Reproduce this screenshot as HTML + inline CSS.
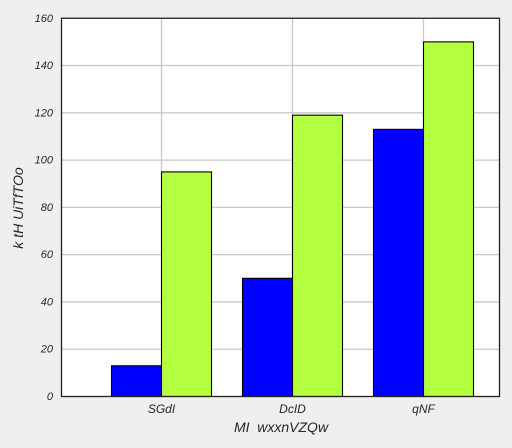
<!DOCTYPE html>
<html>
<head>
<meta charset="utf-8">
<style>
html,body{margin:0;padding:0;background:#efefef;}
body{width:512px;height:448px;overflow:hidden;}
svg{display:block;}
text{font-family:"Liberation Sans",sans-serif;font-style:italic;fill:#262626;}
</style>
</head>
<body>
<svg id="chart" width="512" height="448" viewBox="0 0 512 448" xmlns="http://www.w3.org/2000/svg">
<rect x="0" y="0" width="512" height="448" fill="#efefef"/>
<rect x="61.5" y="18.25" width="438" height="378.25" fill="#ffffff"/>
<g id="grid"></g>
<g id="bars"></g>
<rect x="61.5" y="18.25" width="438" height="378.25" fill="none" stroke="#222222" stroke-width="1.3"/>
<g id="labels"></g>
<text x="281" y="432" font-size="14" text-anchor="middle" xml:space="preserve">MI  wxxnVZQw</text>
<text transform="translate(23,208) rotate(-90)" font-size="14" text-anchor="middle">k tH UiTfTOo</text>
</svg>
<script>
const categories = ['SGdI', 'DcID', 'qNF'];
const seriesBlue = [13, 50, 113];
const seriesGreen = [95, 119, 150];
const yTicks = [0, 20, 40, 60, 80, 100, 120, 140, 160];

const NS = 'http://www.w3.org/2000/svg';
const plotLeft = 61.5, plotRight = 499.5, plotTop = 18.25, plotBottom = 396.5;
const yMax = 160;
const firstCenter = 161.5, step = 131, barWidth = 50;

function yScale(v) {
  return plotBottom - (v / yMax) * (plotBottom - plotTop);
}
function xScale(i) {
  return firstCenter + i * step;
}
function make(tag, attrs, parent) {
  const el = document.createElementNS(NS, tag);
  for (const k in attrs) el.setAttribute(k, attrs[k]);
  parent.appendChild(el);
  return el;
}

const grid = document.getElementById('grid');
const bars = document.getElementById('bars');
const labels = document.getElementById('labels');

yTicks.forEach(function (t) {
  const y = yScale(t);
  if (t > 0 && t < yMax) {
    const line = make('line', {x1: plotLeft, x2: plotRight, y1: y, y2: y, stroke: '#c8c8c8', 'stroke-width': 1.3}, grid);
    
    
  }
  const label = make('text', {x: 53, y: y + 3.5, 'font-size': 11, 'text-anchor': 'end'}, labels);
  label.textContent = String(t);
  
  
});

categories.forEach(function (c, i) {
  const x = xScale(i);
  const line = make('line', {x1: x, x2: x, y1: plotTop, y2: plotBottom, stroke: '#c8c8c8', 'stroke-width': 1.3}, grid);
  
  

  const blue = make('rect', {x: x - barWidth, y: yScale(seriesBlue[i]), width: barWidth, height: plotBottom - yScale(seriesBlue[i]), fill: '#0000ff', stroke: '#000000', 'stroke-width': 1.1}, bars);
  
  

  const green = make('rect', {x: x, y: yScale(seriesGreen[i]), width: barWidth, height: plotBottom - yScale(seriesGreen[i]), fill: '#b4ff40', stroke: '#000000', 'stroke-width': 1.1}, bars);
  
  

  const label = make('text', {x: x, y: 413, 'font-size': 12, 'text-anchor': 'middle'}, labels);
  label.textContent = c;
  
  
});
</script>
</body>
</html>
